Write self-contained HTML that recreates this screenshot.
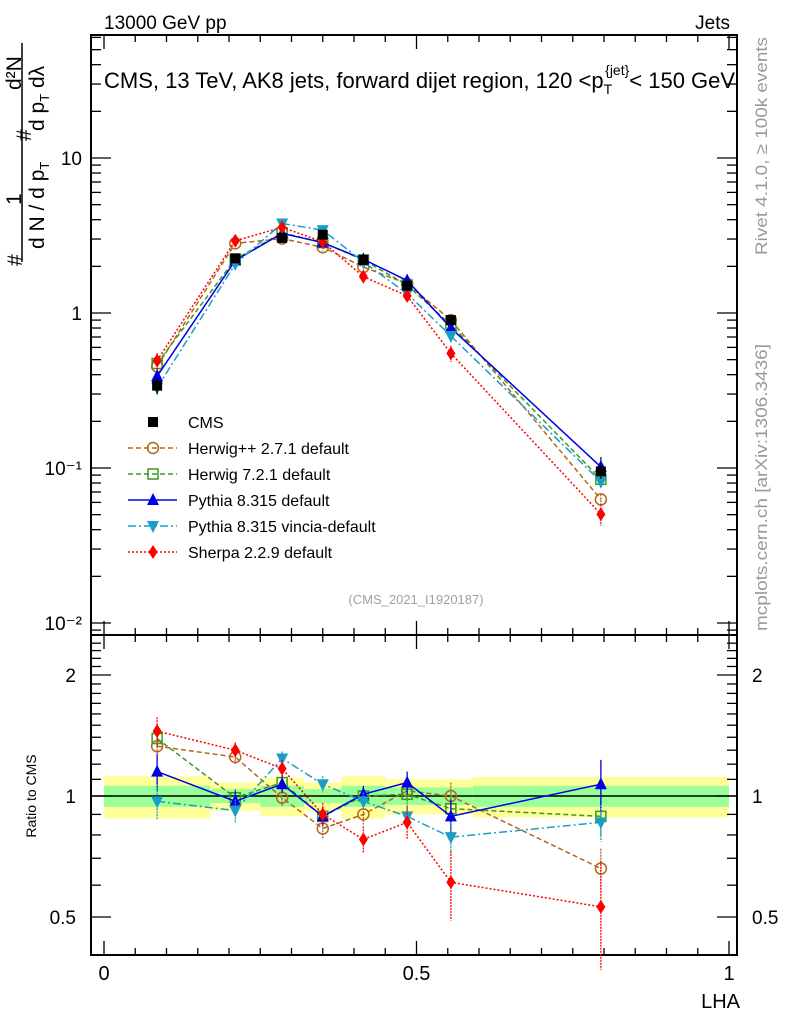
<!DOCTYPE html>
<html><head><meta charset="utf-8"><style>
body{margin:0;background:#fff;}
svg{display:block;font-family:"Liberation Sans","DejaVu Sans",sans-serif;}
</style></head><body>
<svg id="c" width="786" height="1024" viewBox="0 0 786 1024">
<g id="bands"></g>
<g id="axes"></g>
<g id="series"></g>
<text x="104" y="29" font-size="19">13000 GeV pp</text>
<text x="730" y="29" font-size="19" text-anchor="end">Jets</text>
<text x="104" y="88" font-size="22">CMS, 13 TeV, AK8 jets, forward dijet region, 120 &lt;p<tspan font-size="14" dy="6">T</tspan><tspan font-size="14" dy="-19" dx="-7">{jet}</tspan><tspan dy="13">&lt; 150 GeV</tspan></text>
<text x="416" y="604" font-size="13" fill="#a0a0a0" text-anchor="middle">(CMS_2021_I1920187)</text>
<text transform="translate(767,255) rotate(-90)" font-size="17" fill="#999" textLength="218" lengthAdjust="spacingAndGlyphs">Rivet 4.1.0, ≥ 100k events</text>
<text transform="translate(767,631) rotate(-90)" font-size="17" fill="#999" textLength="287" lengthAdjust="spacingAndGlyphs">mcplots.cern.ch [arXiv:1306.3436]</text>
<g>
<text transform="translate(22,266) rotate(-90)" font-size="21">#</text>
<text transform="translate(21,205) rotate(-90)" font-size="21">1</text>
<line x1="22" y1="262" x2="22" y2="43" stroke="#000" stroke-width="1.5"/>
<text transform="translate(44,249) rotate(-90)" font-size="21">d N / d p<tspan font-size="13" dy="5">T</tspan></text>
<text transform="translate(31,141) rotate(-90)" font-size="21">#</text>
<text transform="translate(44,131) rotate(-90)" font-size="21">d p<tspan font-size="13" dy="5">T</tspan><tspan dy="-5"> dλ</tspan></text>
<text transform="translate(21,90) rotate(-90)" font-size="21">d²N</text>
</g>
<text transform="translate(36,796) rotate(-90)" font-size="14" text-anchor="middle">Ratio to CMS</text>
<text x="740" y="1008" font-size="20" text-anchor="end">LHA</text>
<g id="legend"></g>
</svg>
<script>
const binEdges=[0,0.17,0.25,0.32,0.38,0.45,0.52,0.59,1.0];
const cmsVals=[0.34,2.25,3.05,3.2,2.2,1.5,0.9,0.095];
const cmsErr=[0.04,0.1,0.12,0.12,0.1,0.08,0.06,0.01];
const bandTot=[0.12,0.08,0.11,0.08,0.12,0.1,0.1,0.115];
const bandStat=[0.06,0.04,0.06,0.04,0.06,0.05,0.05,0.06];
const herwigPPRatio=[1.33,1.25,0.99,0.83,0.90,1.03,1.0,0.66];
const herwig7Ratio=[1.39,0.99,1.08,0.89,1.0,1.01,0.93,0.89];
const pythiaRatio=[1.15,0.97,1.07,0.89,1.01,1.08,0.89,1.07];
const vinciaRatio=[0.97,0.92,1.24,1.07,0.97,0.89,0.79,0.86];
const sherpaRatio=[1.45,1.30,1.17,0.90,0.78,0.86,0.61,0.53];
const herwigPPErr=[0.07,0.05,0.05,0.05,0.05,0.06,0.08,0.08];
const herwig7Err=[0.07,0.05,0.05,0.05,0.05,0.06,0.08,0.1];
const pythiaErr=[0.12,0.06,0.05,0.05,0.05,0.07,0.09,0.16];
const vinciaErr=[0.1,0.06,0.05,0.05,0.05,0.06,0.07,0.09];
const sherpaErr=[0.12,0.06,0.06,0.06,0.06,0.08,0.12,0.16];
const xTickLabels=["0","0.5","1"];
const mainTickLabels=["10","1","10⁻¹","10⁻²"];
const ratioTickLabels=["2","1","0.5"];

const NS="http://www.w3.org/2000/svg";
const L=91,R=737,T=35,MB=635,RB=955;
const X=v=>104+625*v;
const YM=v=>313-155*Math.log10(v);
const YR=r=>796-121*Math.log2(r);
function mk(tag,at,parent){const e=document.createElementNS(NS,tag);for(const k in at)e.setAttribute(k,at[k]);parent.appendChild(e);return e;}
const axes=document.getElementById('axes'),bands=document.getElementById('bands'),ser=document.getElementById('series'),leg=document.getElementById('legend');

for(let i=0;i<cmsVals.length;i++){
 const x0=X(binEdges[i]),x1=X(binEdges[i+1]);
 const y=mk('rect',{x:x0,y:YR(1+bandTot[i]),width:x1-x0,height:YR(1-bandTot[i])-YR(1+bandTot[i]),fill:'#ffff99'},bands);
 
 
 const g=mk('rect',{x:x0,y:YR(1+bandStat[i]),width:x1-x0,height:YR(1-bandStat[i])-YR(1+bandStat[i]),fill:'#99ff99'},bands);
 
 
}
mk('line',{x1:L,x2:R,y1:YR(1),y2:YR(1),stroke:'#000','stroke-width':1.5},bands);

const f1=mk('rect',{x:L,y:T,width:R-L,height:MB-T,fill:'none',stroke:'#000','stroke-width':2},axes);

const f2=mk('rect',{x:L,y:MB,width:R-L,height:RB-MB,fill:'none',stroke:'#000','stroke-width':2},axes);

function tk(x1,y1,x2,y2){mk('line',{x1,y1,x2,y2,stroke:'#000','stroke-width':1.3},axes);}
for(let k=0;k<=20;k++){const v=k*0.05,x=X(v),len=(k%10==0)?14:7;
 tk(x,MB,x,MB-len);tk(x,T,x,T+len);tk(x,RB,x,RB-len);tk(x,MB,x,MB+len);}
xTickLabels.forEach((s,i)=>{const t=mk('text',{x:X(i*0.5),y:980,'font-size':20,'text-anchor':'middle'},axes);t.textContent=s;
 });
for(let d=-3;d<=1;d++){for(let m=1;m<=9;m++){const v=m*Math.pow(10,d);const y=YM(v);if(y<T||y>MB)continue;
 const len=m==1?20:10;tk(L,y,L+len,y);tk(R,y,R-len,y);}}
mainTickLabels.forEach((s,i)=>{const v=Math.pow(10,1-i);const t=mk('text',{x:82,y:YM(v)+7,'font-size':19,'text-anchor':'end'},axes);t.textContent=s;
 });
for(let r=0.4;r<=2.5;r+=0.1){const y=YR(r);if(y<MB||y>RB)continue;const major=[0.5,1,2].some(v=>Math.abs(v-r)<1e-6);
 const len=major?20:10;tk(L,y,L+len,y);tk(R,y,R-len,y);}
[2,1,0.5].forEach((v,i)=>{const s=ratioTickLabels[i];
 const t=mk('text',{x:76,y:YR(v)+7,'font-size':19,'text-anchor':'end'},axes);t.textContent=s;
 
 const t2=mk('text',{x:752,y:YR(v)+7,'font-size':19},axes);t2.textContent=s;
 });

const centers=cmsVals.map((_,i)=>(binEdges[i]+binEdges[i+1])/2);
function marker(type,x,y,col,g){
 if(type=='sq')return mk('rect',{x:x-5,y:y-5,width:10,height:10,fill:'#000'},g);
 if(type=='osq')return mk('rect',{x:x-5,y:y-5,width:10,height:10,fill:'none',stroke:col,'stroke-width':1.5},g);
 if(type=='oc')return mk('circle',{cx:x,cy:y,r:5.5,fill:'none',stroke:col,'stroke-width':1.5},g);
 if(type=='tu')return mk('polygon',{points:`${x},${y-7} ${x-6},${y+5} ${x+6},${y+5}`,fill:col},g);
 if(type=='td')return mk('polygon',{points:`${x},${y+7} ${x-6},${y-5} ${x+6},${y-5}`,fill:col},g);
 if(type=='di')return mk('polygon',{points:`${x},${y-7} ${x-4.5},${y} ${x},${y+7} ${x+4.5},${y}`,fill:col},g);
}
const series=[
 {name:'herwigpp',label:'Herwig++ 2.7.1 default',r:herwigPPRatio,e:herwigPPErr,col:'#b5651d',dash:'5,3',m:'oc'},
 {name:'herwig7',label:'Herwig 7.2.1 default',r:herwig7Ratio,e:herwig7Err,col:'#3c9a1e',dash:'5,3',m:'osq'},
 {name:'pythia',label:'Pythia 8.315 default',r:pythiaRatio,e:pythiaErr,col:'#0000e6',dash:'',m:'tu'},
 {name:'vincia',label:'Pythia 8.315 vincia-default',r:vinciaRatio,e:vinciaErr,col:'#1a9ec8',dash:'8,3,2,3',m:'td'},
 {name:'sherpa',label:'Sherpa 2.2.9 default',r:sherpaRatio,e:sherpaErr,col:'#ff0000',dash:'2,2',m:'di'}];
series.forEach(s=>{
 const g=mk('g',{},ser);
 
 
 const mainPts=centers.map((c,i)=>[X(c),YM(cmsVals[i]*s.r[i])]);
 const ratPts=centers.map((c,i)=>[X(c),YR(s.r[i])]);
 const st={fill:'none',stroke:s.col,'stroke-width':1.5};if(s.dash)st['stroke-dasharray']=s.dash;
 mk('polyline',Object.assign({points:mainPts.map(p=>p.join(',')).join(' ')},st),g);
 mk('polyline',Object.assign({points:ratPts.map(p=>p.join(',')).join(' ')},st),g);
 centers.forEach((c,i)=>{
  const v=cmsVals[i]*s.r[i],x=X(c);
  const es={stroke:s.col,'stroke-width':1.3};if(s.dash)es['stroke-dasharray']='2,1';
  mk('line',Object.assign({x1:x,x2:x,y1:YM(v*(1+s.e[i])),y2:YM(v*(1-s.e[i]))},es),g);
  mk('line',Object.assign({x1:x,x2:x,y1:YR(s.r[i]+s.e[i]),y2:YR(s.r[i]-s.e[i])},es),g);
  const m1=marker(s.m,x,YM(v),s.col,g);
  const m2=marker(s.m,x,YR(s.r[i]),s.col,g);
 });
});
const cg=mk('g',{},ser);


centers.forEach((c,i)=>{const x=X(c);
 mk('line',{x1:x,x2:x,y1:YM(cmsVals[i]+cmsErr[i]),y2:YM(cmsVals[i]-cmsErr[i]),stroke:'#000','stroke-width':1.3},cg);
 const m=marker('sq',x,YM(cmsVals[i]),'#000',cg);});
const rows=[{label:'CMS',m:'sq',col:'#000',dash:null}].concat(series.map(s=>({label:s.label,m:s.m,col:s.col,dash:s.dash})));
rows.forEach((r,i)=>{const y=422+26*i;const g=mk('g',{},leg);
 
 
 if(r.dash!==null){const st={x1:128,x2:177,y1:y,y2:y,stroke:r.col,'stroke-width':1.5};if(r.dash)st['stroke-dasharray']=r.dash;mk('line',st,g);}
 marker(r.m,153,y,r.col,g);
 const t=mk('text',{x:188,y:y+6,'font-size':16},g);t.textContent=r.label;});
</script>
</body></html>
